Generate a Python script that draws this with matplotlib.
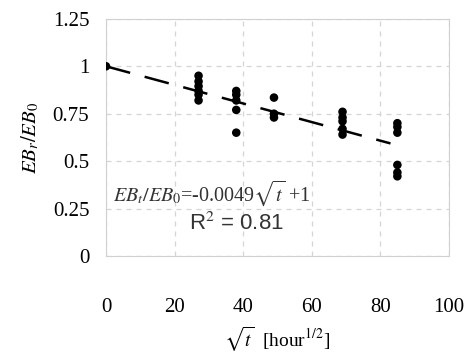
import matplotlib
matplotlib.use("Agg")
import matplotlib.pyplot as plt
import numpy as np

# data
x_groups = [0, 27, 38, 49, 69, 85]
y_groups = [
    [1.0],
    [0.95, 0.92, 0.895, 0.87, 0.85, 0.82],
    [0.87, 0.85, 0.82, 0.77, 0.65],
    [0.835, 0.75, 0.73],
    [0.76, 0.73, 0.71, 0.67, 0.64],
    [0.70, 0.68, 0.65, 0.48, 0.44, 0.42],
]
slope = -0.0049
intercept = 1.0
fit_x = [0, 83]
x_ticks = [0, 20, 40, 60, 80, 100]
y_ticks = [0, 0.25, 0.5, 0.75, 1, 1.25]
y_tick_labels = ["0", "0.25", "0.5", "0.75", "1", "1.25"]

plt.rcParams['font.family'] = ['Liberation Serif', 'DejaVu Serif']
plt.rcParams['mathtext.fontset'] = 'stix'

fig = plt.figure(figsize=(4.67, 3.56), dpi=100)
ax = fig.add_axes([0.227, 0.281, 0.734, 0.666])

xs = []
ys = []
for xv, yl in zip(x_groups, y_groups):
    for yv in yl:
        xs.append(xv)
        ys.append(yv)
ax.scatter(xs, ys, marker='o', s=38, color='black', zorder=3, edgecolors='none')

fx = np.array(fit_x, dtype=float)
ax.plot(fx, slope * fx + intercept, color='black', lw=1.8, ls=(0, (10, 6)), zorder=2)

ax.set_xlim(0, 100)
ax.set_ylim(0, 1.25)
ax.set_xticks(x_ticks)
ax.set_yticks(y_ticks)
ax.set_yticklabels(y_tick_labels)
ax.grid(True, color='#d5d5d5', ls=(0, (4, 4)), lw=0.9)
for s in ax.spines.values():
    s.set_color('#d0d0d0')
ax.tick_params(axis='both', labelsize=15, length=0)
ax.tick_params(axis='x', pad=30)
ax.tick_params(axis='y', pad=12)

ax.set_ylabel(r'$EB_r/EB_0$', fontsize=15, labelpad=8)
ax.set_xlabel(r'$\sqrt{t}$  [hour$^{1/2}$]', fontsize=14, labelpad=6)

ax.text(2, 0.33, r'$EB_t/EB_0$=-0.0049$\sqrt{t}$ +1', fontsize=14.5, color='#333333',
        ha='left', va='center')
ax.text(38, 0.17, 'R$^2$ = 0.81', fontsize=16, family='Liberation Sans', color='#333333',
        ha='center', va='center')

fig.savefig('out.png', dpi=100)
